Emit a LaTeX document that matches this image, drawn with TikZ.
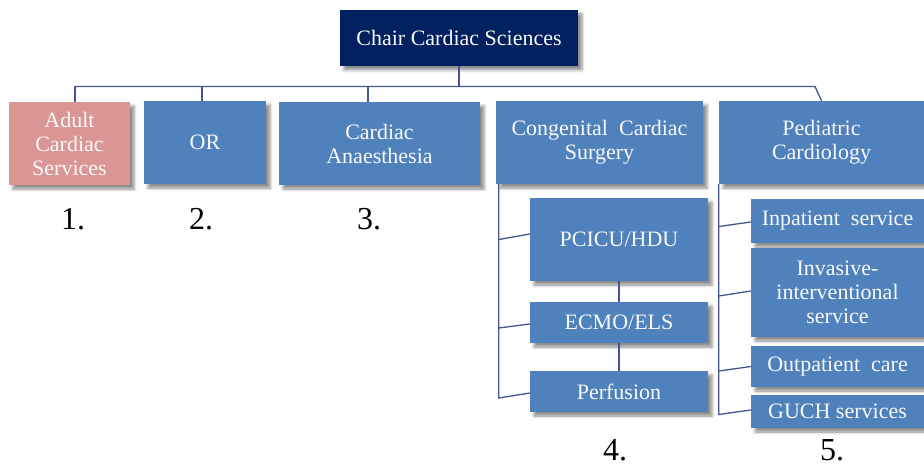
\documentclass[tikz,border=0pt]{standalone}
\usepackage{fontspec}
\setmainfont{Liberation Serif}
\usetikzlibrary{calc,shadows.blur}

\definecolor{boxblue}{HTML}{4F81BD}
\definecolor{boxpink}{HTML}{D99694}
\definecolor{chairnavy}{HTML}{002060}
\definecolor{linkcol}{HTML}{45558F}

\tikzset{
  unitbox/.style={rectangle, inner sep=2pt, align=center, text=white!95!gray,
    font=\fontsize{22}{24}\selectfont,
    blur shadow={shadow xshift=4pt, shadow yshift=-4pt, shadow blur radius=3pt, shadow opacity=45}},
  bluebox/.style={unitbox, fill=boxblue},
  pinkbox/.style={unitbox, fill=boxpink},
  headbox/.style={unitbox, fill=chairnavy},
  link/.style={draw=linkcol, line width=1.3pt},
  numlabel/.style={anchor=base, inner sep=0pt, font=\fontsize{32}{36}\selectfont}
}

\begin{document}
\begin{tikzpicture}[x=1pt, y=-1pt]
\useasboundingbox (0,0) rectangle (924,468);

% head of the chart
\node[headbox, minimum width=238, minimum height=56] (chair) at (459,38) {Chair Cardiac Sciences};

% first level units
\node[pinkbox, minimum width=121, minimum height=83] (adult) at (69.5,143.5) {Adult\\Cardiac\\Services};
\node[bluebox, minimum width=122, minimum height=83] (or) at (205,142.5) {OR};
\node[bluebox, minimum width=201, minimum height=83] (anaes) at (379.5,143.5) {Cardiac\\Anaesthesia};
\node[bluebox, minimum width=207, minimum height=83] (congen) at (599.5,142.5) {Congenital\ \ Cardiac\\Surgery};
\node[bluebox, minimum width=205, minimum height=83] (pedia) at (821.5,142.5) {Pediatric\\Cardiology};

% congenital cardiac surgery sub-units
\node[bluebox, minimum width=178, minimum height=83] (pcicu) at (619,239.5) {PCICU/HDU};
\node[bluebox, minimum width=178, minimum height=41] (ecmo) at (619,322.5) {ECMO/ELS};
\node[bluebox, minimum width=178, minimum height=41] (perf) at (619,391.5) {Perfusion};

% pediatric cardiology sub-units
\node[bluebox, minimum width=173, minimum height=44] (inpat) at (837.5,221) {Inpatient\ \ service};
\node[bluebox, minimum width=173, minimum height=89] (invas) at (837.5,292.5) {Invasive-\\interventional\\service};
\node[bluebox, minimum width=173, minimum height=41] (outp) at (837.5,366.5) {Outpatient\ \ care};
\node[bluebox, minimum width=173, minimum height=33] (guch) at (837.5,411.5) {GUCH services};

% numbering
\node[numlabel] (n1) at (73,229) {1.};
\node[numlabel] (n2) at (201,229) {2.};
\node[numlabel] (n3) at (369,229) {3.};
\node[numlabel] (n4) at (615,460) {4.};
\node[numlabel] (n5) at (832,460) {5.};

% top bus
\coordinate (busL) at (75,86.5);
\coordinate (busR) at (815,86.5);
\draw[link] (chair.south) -- (chair.south |- busL);
\draw[link] (busL) -- (busR) -- (pedia.north);
\draw[link] (busL) -- ($(adult.north)+(5.5,0)$);
\draw[link] ($(or.north)+(-3,0)$) |- (busL);
\draw[link] ($(anaes.north)+(-11.5,0)$) |- (busL);

% congenital spine and branches
\coordinate (cspine) at ($(congen.south west)+(3,0)$);
\coordinate (cend) at ($(perf.west)+(0,6.5)$);
\draw[link] (cspine) -- (cspine |- cend) -- ($(perf.west)+(0,1.5)$);
\draw[link] (cspine |- pcicu.west) -- ($(pcicu.west)+(0,-5.5)$);
\draw[link] ($(cspine |- ecmo.west)+(0,5.5)$) -- ($(ecmo.west)+(0,1.5)$);
\draw[link] (pcicu.south) -- (ecmo.north);
\draw[link] (ecmo.south) -- (perf.north);

% pediatric spine and branches
\coordinate (pspine) at (pedia.south west);
\coordinate (pend) at ($(guch.west)+(0,3)$);
\draw[link] (pspine) -- (pspine |- pend) -- ($(guch.west)+(0,-1.5)$);
\draw[link] ($(pspine |- inpat.west)+(0,5.5)$) -- ($(inpat.west)+(0,1)$);
\draw[link] ($(pspine |- invas.west)+(0,3.5)$) -- ($(invas.west)+(0,-1.5)$);
\draw[link] ($(pspine |- outp.west)+(0,4.5)$) -- (outp.west);
\end{tikzpicture}
\end{document}
